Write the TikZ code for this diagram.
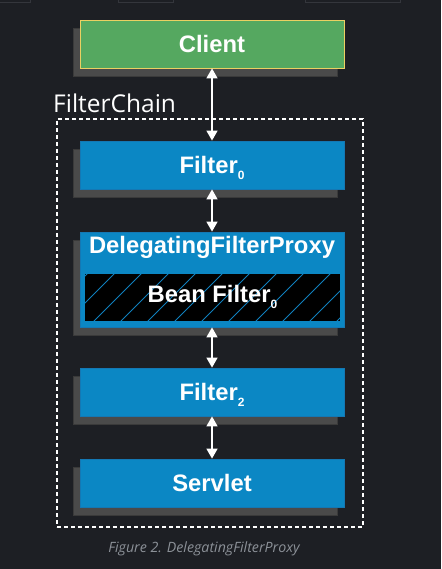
\documentclass[tikz,border=0pt]{standalone}
\usepackage{fontspec}
\setmainfont{Liberation Sans}
\newfontfamily\capfont{Open Sans}
\usetikzlibrary{arrows.meta,shadows}
\definecolor{bgc}{RGB}{29,31,36}
\definecolor{greenc}{RGB}{85,168,96}
\definecolor{yellowc}{RGB}{236,208,98}
\definecolor{bluec}{RGB}{11,135,196}
\definecolor{blueb}{RGB}{20,120,180}
\definecolor{shadowc}{RGB}{74,74,74}
\definecolor{shadowb}{RGB}{58,58,58}
\definecolor{hatchc}{RGB}{16,128,190}
\definecolor{capc}{RGB}{140,145,152}
\definecolor{faintc}{RGB}{52,54,60}
\newcommand{\subz}[1]{\raisebox{-6pt}{\fontsize{12}{12}\selectfont #1}}
\tikzset{
  boxbase/.style={rectangle, minimum width=264pt, minimum height=48pt, inner sep=0pt,
    text=white, font=\fontsize{23.8}{28}\selectfont\bfseries, text height=17pt, text depth=0pt,
    general shadow={fill=shadowc, draw=shadowb, line width=0.8pt, shadow xshift=-7pt, shadow yshift=-8pt}},
  greenbox/.style={boxbase, fill=greenc, draw=yellowc, line width=0.8pt},
  bluebox/.style={boxbase, fill=bluec, draw=blueb, line width=0.8pt},
  beanbox/.style={rectangle, minimum width=257pt, minimum height=49pt, inner sep=0pt,
    draw=bluec, line width=1.5pt, fill=black, text=white, font=\fontsize{23.8}{28}\selectfont\bfseries,
    text height=17pt, text depth=8pt},
  arr/.style={draw=white, line width=1.5pt, {Triangle[length=10pt,width=11pt]}-{Triangle[length=10pt,width=11pt]}},
  chainbox/.style={rectangle, draw=white, line width=1.2pt, dash pattern=on 4pt off 3pt, inner sep=0pt}
}
\begin{document}
\begin{tikzpicture}[x=1pt,y=-1pt]
\fill[bgc] (0,0) rectangle (441,569);
\useasboundingbox (0,0) rectangle (441,569);
% faint remnants at top edge
\draw[faintc, line width=0.8pt] (-2,-5) rectangle (30,2);
\draw[faintc, line width=0.8pt] (118,-5) rectangle (173,2);
\draw[faintc, line width=0.8pt] (305,-5) rectangle (400,2);

% filter chain
\node[chainbox, minimum width=306pt, minimum height=408pt] (chain) at (210,323) {};
\node[anchor=base west, inner sep=0pt, text=white, font=\capfont\fontsize{24.5}{28}\selectfont] (chainlbl) at (53,113) {FilterChain};

\node[greenbox] (client) at (212,44) {Client};
\node[bluebox] (f0) at (212,165) {Filter\subz{0}};
\node[bluebox, minimum height=95pt] (dfp) at (212,279.5) {};
\node[anchor=base, inner sep=0pt, text=white, font=\fontsize{23.8}{28}\selectfont\bfseries] (dfpt) at (212,253) {DelegatingFilterProxy};
\node[beanbox, path picture={
    \foreach \k in {-4,...,10} {
      \draw[hatchc, line width=0.8pt] ([xshift={9pt+27pt*\k}]path picture bounding box.south west) -- ++(52pt,52pt);
    }
  }] (bean) at (212.5,297.5) {Bean Filter\subz{0}};
\node[bluebox] (f2) at (212,392) {Filter\subz{2}};
\node[bluebox] (servlet) at (212,483) {Servlet};

\draw[arr] (client.south) -- (f0.north);
\draw[arr] (f0.south) -- (dfp.north);
\draw[arr] (dfp.south) -- (f2.north);
\draw[arr] (f2.south) -- (servlet.north);

\node[anchor=base, inner sep=0pt, text=capc, font=\capfont\itshape\fontsize{14.2}{17}\selectfont] (cap) at (204,552) {Figure 2. DelegatingFilterProxy};
\end{tikzpicture}
\end{document}
